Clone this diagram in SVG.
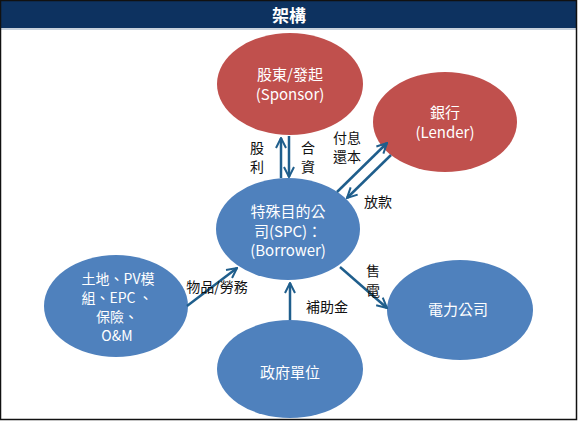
<svg xmlns="http://www.w3.org/2000/svg" width="578" height="421" viewBox="0 0 578 421">
<style>
.red{fill:#C0504D}
.blue{fill:#4F81BD}
.nt{fill:#fff;font-family:"Noto Sans CJK TC","Open Sans",sans-serif;font-size:15px;text-anchor:middle}
.sm{font-size:14px}
.lb{fill:#111;font-family:"Noto Sans CJK TC",sans-serif;font-size:14px;text-anchor:middle}
.ar{stroke:#1F5E8C;stroke-width:2.5;fill:none;marker-end:url(#ah)}
</style>
<defs>
<marker id="ah" viewBox="0 0 10 10" refX="9" refY="5" markerWidth="5" markerHeight="5" orient="auto" markerUnits="strokeWidth">
<polyline points="1,1 9,5 1,9" fill="none" stroke="#1F5E8C" stroke-width="1.6"/>
</marker>
</defs>
<rect x="0" y="0" width="578" height="421" fill="#fff"/>
<rect x="1" y="1" width="575" height="27" fill="#0D3260"/>
<line x1="1" y1="29" x2="576" y2="29" stroke="#8FA4BA" stroke-width="1.2"/>
<text x="289" y="22" fill="#fff" font-family="Noto Sans CJK TC,sans-serif" font-size="17" font-weight="bold" text-anchor="middle">架構</text>
<g id="sponsor"><ellipse class="red" cx="290" cy="84" rx="73" ry="51"/><text class="nt" x="290" y="80">股東/發起</text><text class="nt" x="290" y="100">(Sponsor)</text></g>
<g id="lender"><ellipse class="red" cx="445" cy="122" rx="72" ry="50"/><text class="nt" x="445" y="118">銀行</text><text class="nt" x="445" y="138">(Lender)</text></g>
<g id="spc"><ellipse class="blue" cx="288" cy="229" rx="72" ry="51"/><text class="nt" x="288" y="217">特殊目的公</text><text class="nt" x="288" y="237">司(SPC)：</text><text class="nt" x="288" y="256">(Borrower)</text></g>
<g id="suppliers"><ellipse class="blue" cx="116" cy="306" rx="72" ry="51"/><text class="nt sm" x="118" y="284">土地、PV模</text><text class="nt sm" x="117" y="303">組、EPC 、</text><text class="nt sm" x="117" y="322">保險、</text><text class="nt sm" x="117" y="341">O&amp;M</text></g>
<g id="power"><ellipse class="blue" cx="460" cy="310" rx="73" ry="50"/><text class="nt" x="458" y="315">電力公司</text></g>
<g id="gov"><ellipse class="blue" cx="290" cy="369" rx="73" ry="49"/><text class="nt" x="290" y="378">政府單位</text></g>
<g id="connectors">
<line class="ar" x1="281" y1="178" x2="281" y2="138"/>
<line class="ar" x1="289" y1="136" x2="289" y2="177"/>
<line class="ar" x1="337" y1="192" x2="387" y2="143"/>
<line class="ar" x1="391" y1="155" x2="347" y2="198"/>
<line class="ar" x1="187" y1="306" x2="237" y2="268"/>
<line class="ar" x1="340" y1="267" x2="387" y2="308"/>
<line class="ar" x1="290" y1="320" x2="290" y2="283"/>
</g>
<g id="labels">
<text class="lb" x="257" y="153">股</text><text class="lb" x="257" y="172">利</text>
<text class="lb" x="308" y="153">合</text><text class="lb" x="308" y="172">資</text>
<text class="lb" x="347" y="143">付息</text><text class="lb" x="347" y="162">還本</text>
<text class="lb" x="378" y="207">放款</text>
<text class="lb" x="217" y="292">物品/勞務</text>
<text class="lb" x="373" y="276">售</text><text class="lb" x="373" y="296">電</text>
<text class="lb" x="327" y="312">補助金</text>
</g>
<rect x="0.5" y="0.5" width="576" height="419" fill="none" stroke="#111" stroke-width="1.5"/>
</svg>
